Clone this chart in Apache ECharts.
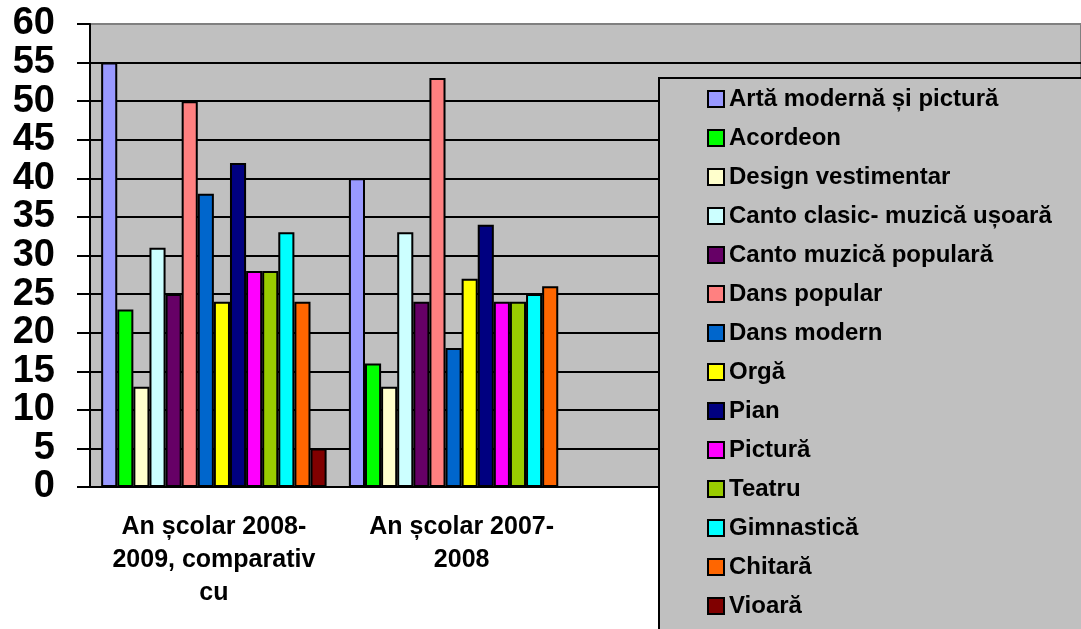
<!DOCTYPE html>
<html>
<head>
<meta charset="utf-8">
<script src="https://cdn.jsdelivr.net/npm/echarts@6/dist/echarts.min.js"></script>
<style>
  html, body { margin: 0; padding: 0; background: #fff; }
  #chart { width: 1081px; height: 629px; }
</style>
</head>
<body>
<div id="chart"></div>
<script>
// categories (the last two slots are empty in the original chart)
var categories = ["An școlar 2008-\n2009, comparativ\ncu", "An școlar 2007-\n2008", "", ""];

var seriesNames = [
  "Artă modernă și pictură", "Acordeon", "Design vestimentar",
  "Canto clasic- muzică ușoară", "Canto muzică populară", "Dans popular",
  "Dans modern", "Orgă", "Pian", "Pictură", "Teatru", "Gimnastică",
  "Chitară", "Vioară"
];

// values per category, in the order of seriesNames
var values2008_2009 = [55, 23, 13, 31, 25, 50, 38, 24, 42, 28, 28, 33, 24, 5];
var values2007_2008 = [40, 16, 13, 33, 24, 53, 18, 27, 34, 24, 24, 25, 26, null];

var yTicks = { min: 0, max: 60, interval: 5 };

var colors = [
  "#9999FF", "#00FF00", "#FFFFCC", "#CCFFFF", "#660066", "#FF8080",
  "#0066CC", "#FFFF00", "#000080", "#FF00FF", "#99CC00", "#00FFFF",
  "#FF6600", "#800000"
];

var font = "'Liberation Sans', Arial, sans-serif";

// 12 black grid lines, the top one is the gray plot border
var gridColors = [];
for (var i = 0; i < 12; i++) gridColors.push("#000");
gridColors.push("#808080");

var series = seriesNames.map(function (name, i) {
  return {
    name: name,
    type: "bar",
    barGap: "0%",
    barCategoryGap: "9%",
    data: [values2008_2009[i], values2007_2008[i], null, null],
    itemStyle: { color: colors[i], borderColor: "#000", borderWidth: 2 }
  };
});

var chart = echarts.init(document.getElementById("chart"));
chart.setOption({
  animation: false,
  textStyle: { fontFamily: font },
  grid: {
    left: 90, top: 24, width: 1000, height: 463,
    show: true, backgroundColor: "#c0c0c0",
    borderColor: "#808080", borderWidth: 2
  },
  legend: {
    orient: "vertical",
    left: 659, top: 78,
    height: 600,
    padding: [9, 120, 60, 48],
    itemGap: 15,
    itemWidth: 16, itemHeight: 16,
    icon: "rect",
    backgroundColor: "#c0c0c0",
    borderColor: "#000", borderWidth: 2,
    textStyle: { fontFamily: font, fontWeight: "bold", fontSize: 24, color: "#000" },
    data: seriesNames
  },
  xAxis: {
    type: "category",
    data: categories,
    axisLine: { lineStyle: { color: "#000", width: 2 } },
    axisTick: { length: 6, lineStyle: { color: "#000", width: 2 } },
    axisLabel: {
      interval: 0, margin: 24, color: "#000",
      fontFamily: font, fontWeight: "bold", fontSize: 25, lineHeight: 33
    }
  },
  yAxis: {
    type: "value",
    min: yTicks.min, max: yTicks.max, interval: yTicks.interval,
    axisLine: { show: true, lineStyle: { color: "#000", width: 2 } },
    axisTick: { show: true, length: 13, lineStyle: { color: "#000", width: 2 } },
    axisLabel: {
      margin: 35, color: "#000",
      fontFamily: font, fontWeight: "bold", fontSize: 38
    },
    splitLine: { lineStyle: { color: gridColors, width: 2 } }
  },
  series: series
});
</script>
</body>
</html>
